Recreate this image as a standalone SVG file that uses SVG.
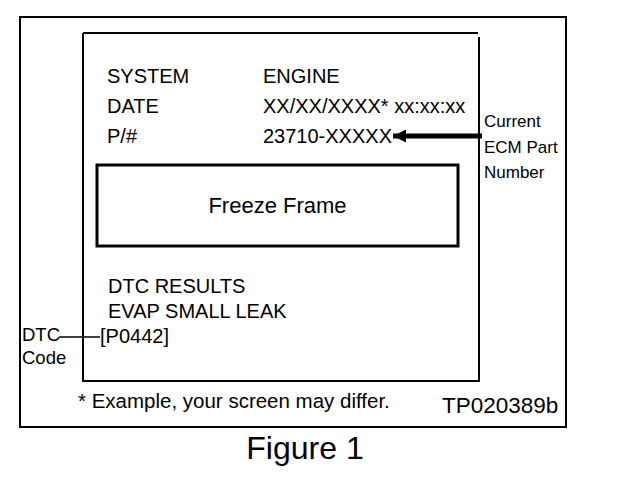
<svg xmlns="http://www.w3.org/2000/svg" width="624" height="482" viewBox="0 0 624 482">
<style>
text{font-family:"Liberation Sans",Arial,Helvetica,sans-serif;fill:#000}
.t20{font-size:20px}
.t17{font-size:17px}
.box{fill:none;stroke:#000}
</style>
<defs>
<marker id="ah" viewBox="0 0 10 10" refX="10" refY="5" markerWidth="3" markerHeight="2.6" orient="auto" markerUnits="strokeWidth">
<path d="M0,0 L10,5 L0,10 Z" fill="#000"/>
</marker>
</defs>
<rect width="624" height="482" fill="#fff"/>
<g id="outer-frame">
<rect class="box" x="20" y="17" width="546" height="410" stroke-width="2"/>
</g>
<g id="screen">
<path class="box" d="M83,33 H478 M479,37 V381 H83 V33" stroke-width="2"/>
<text class="t20" x="107" y="83">SYSTEM</text>
<text class="t20" x="263" y="83">ENGINE</text>
<text class="t20" x="107" y="113">DATE</text>
<text class="t20" x="263" y="113">XX/XX/XXXX* xx:xx:xx</text>
<text class="t20" x="107" y="143">P/#</text>
<text class="t20" x="263" y="143">23710-XXXXX</text>
<text class="t20" x="108" y="293">DTC RESULTS</text>
<text class="t20" x="108" y="318">EVAP SMALL LEAK</text>
<text class="t20" x="100" y="343">[P0442]</text>
</g>
<g id="freeze-frame">
<rect class="box" x="97" y="165" width="361" height="81" stroke-width="3"/>
<text x="277.5" y="213" font-size="22" text-anchor="middle">Freeze Frame</text>
</g>
<g id="ecm-label">
<text class="t17" x="484" y="127">Current</text>
<text class="t17" x="484" y="153">ECM Part</text>
<text class="t17" x="484" y="178">Number</text>
</g>
<g id="dtc-label">
<text font-size="18.5" x="22" y="341">DTC</text>
<text font-size="18.5" x="22" y="364">Code</text>
</g>
<g id="connectors">
<line x1="482" y1="136" x2="393" y2="136" stroke="#000" stroke-width="5" marker-end="url(#ah)"/>
<line x1="59" y1="337" x2="100" y2="337" stroke="#000" stroke-width="1.5"/>
</g>
<g id="footer">
<text x="78" y="408" font-size="20.5">* Example, your screen may differ.</text>
<text x="442" y="413" font-size="22.5">TP020389b</text>
<text x="305" y="459" font-size="32" text-anchor="middle">Figure 1</text>
</g>
</svg>
